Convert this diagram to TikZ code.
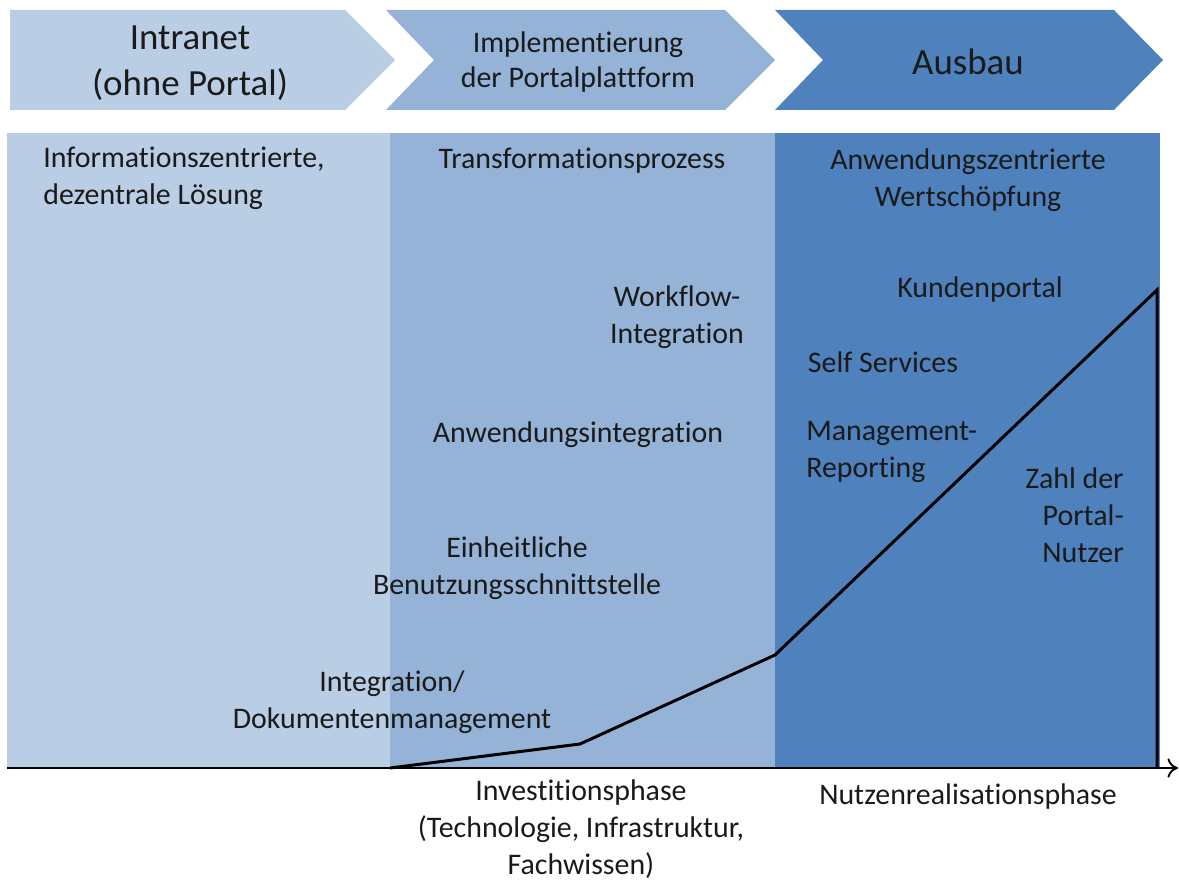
\documentclass[tikz,border=0pt]{standalone}
\usepackage{fontspec}
\setmainfont{Carlito}[Ligatures=NoCommon]
\usetikzlibrary{arrows.meta}

\begin{document}
\begin{tikzpicture}[x=0.02cm,y=-0.02cm,line join=miter]
  % Colors
  \definecolor{phaseone}{HTML}{B9CDE5}
  \definecolor{phasetwo}{HTML}{95B3D7}
  \definecolor{phasethree}{HTML}{4F81BD}
  \definecolor{textcolor}{HTML}{1A1A1A}

  % Styles
  \tikzstyle{title text}=[text=textcolor,align=center,font=\fontsize{21}{26}\selectfont]
  \tikzstyle{small title}=[text=textcolor,align=center,font=\fontsize{17}{19.5}\selectfont]
  \tikzstyle{label text}=[text=textcolor,align=center,inner sep=0pt,font=\fontsize{17}{21}\selectfont]
  \tikzstyle{important line}=[line width=1.7pt]

  \useasboundingbox (0,0) rectangle (1179,881);

  % Chevrons
  \fill[phaseone] (10,10) -- (345,10) -- (395,60) -- (345,110) -- (10,110) -- cycle;
  \fill[phasetwo] (386,10) -- (725,10) -- (775,60) -- (725,110) -- (386,110) -- (434,60) -- cycle;
  \fill[phasethree] (775,10) -- (1114,10) -- (1163,60) -- (1114,110) -- (775,110) -- (823,60) -- cycle;

  \node[title text] (intranet) at (190,63) {Intranet\\(ohne Portal)};
  \node[small title] (impl) at (578,62) {Implementierung\\der Portalplattform};
  \node[title text] (ausbau) at (968,62) {Ausbau};

  % Panels
  \fill[phaseone] (7,133) rectangle (390,768);
  \fill[phasetwo] (390,133) rectangle (775,768);
  \fill[phasethree] (775,133) rectangle (1160,768);

  \node[label text,align=left,anchor=north west] (info) at (43,147) {Informationszentrierte,\\dezentrale Lösung};
  \node[label text] (trans) at (582,161) {Transformationsprozess};
  \node[label text] (anwzentr) at (968,180) {Anwendungszentrierte\\Wertschöpfung};

  \node[label text] (workflow) at (677,317) {Workflow-\\Integration};
  \node[label text] (anwint) at (578,435) {Anwendungsintegration};
  \node[label text] (einheit) at (517,568) {Einheitliche\\Benutzungsschnittstelle};
  \node[label text] (dokman) at (392,702) {Integration/\\Dokumentenmanagement};

  \node[label text] (kunden) at (980,290) {Kundenportal};
  \node[label text] (self) at (883,362) {Self Services};
  \node[label text,align=left,anchor=west] (mgmt) at (806,452) {Management-\\Reporting};
  \node[label text,align=right,anchor=east] (zahl) at (1124,515) {Zahl der\\Portal-\\Nutzer};

  \node[label text] (invest) at (581,829) {Investitionsphase\\(Technologie, Infrastruktur,\\Fachwissen)};
  \node[label text] (nutzen) at (968,797) {Nutzenrealisationsphase};

  % Curve and axis
  \coordinate (o) at (390,768);
  \coordinate (p1) at (580,744);
  \coordinate (p2) at (775,655);
  \coordinate (p3) at (1157,290);
  \coordinate (base) at (1157,768);
  \coordinate (axstart) at (7,768);
  \coordinate (axend) at (1178,768);

  \draw[line width=1.1pt,-{To[length=6pt,width=11pt]}] (axstart) -- (axend);
  \draw[important line] (o) -- (p1) -- (p2) -- (p3) -- (base);
\end{tikzpicture}
\end{document}
